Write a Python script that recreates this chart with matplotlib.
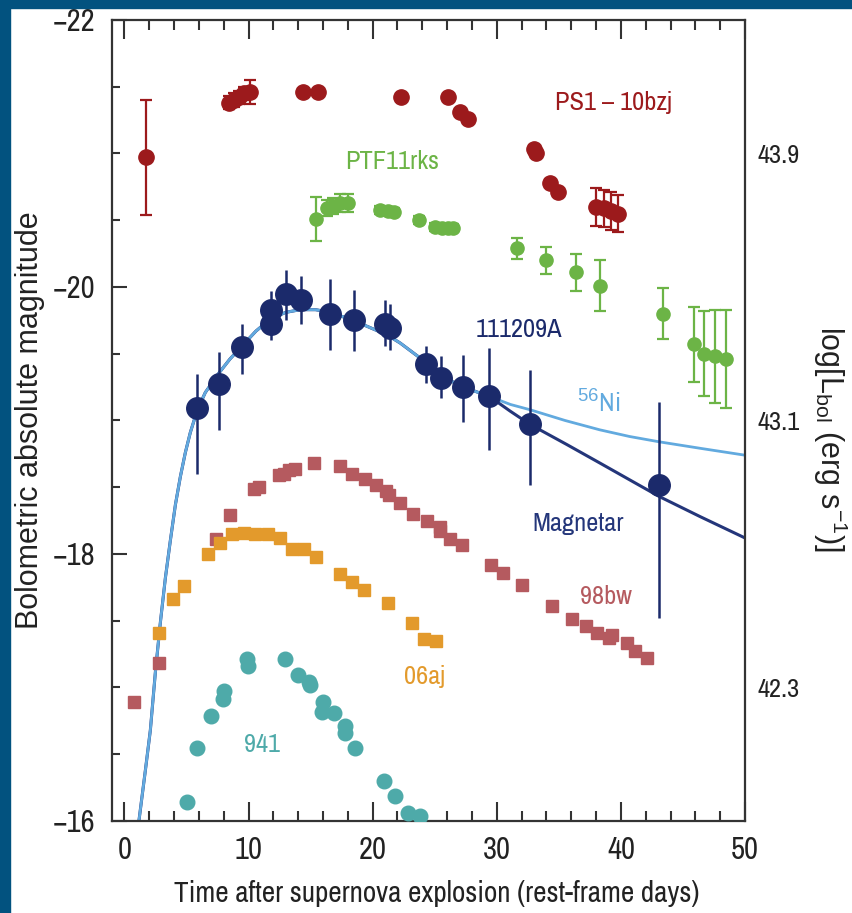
import matplotlib
matplotlib.use("Agg")
import matplotlib.pyplot as plt
from matplotlib.patches import Rectangle
from matplotlib.ticker import MultipleLocator

plt.rcParams["font.family"] = ["Archivo Narrow", "Roboto Condensed", "Liberation Sans", "DejaVu Sans"]
plt.rcParams["mathtext.fontset"] = "custom"
plt.rcParams["mathtext.rm"] = "Liberation Sans"

# PS1-10bzj
ps1_t = [1.7, 8.4, 8.8, 9.2, 9.6, 10.1, 14.4, 15.6, 22.3, 26.1, 27.0, 27.7,
         33.0, 33.2, 34.3, 34.9, 38.0, 38.6, 39.2, 39.8]
ps1_m = [-20.97, -21.38, -21.40, -21.42, -21.45, -21.46, -21.46, -21.46, -21.42,
         -21.42, -21.31, -21.26, -21.03, -21.00, -20.78, -20.71, -20.60, -20.59,
         -20.57, -20.55]
ps1_err = [0.43, 0.05, 0.05, 0.05, 0.05, 0.09, 0.02, 0.02, 0.02, 0.02, 0.02, 0.02,
           0.03, 0.03, 0.03, 0.03, 0.14, 0.14, 0.14, 0.14]

# PTF11rks
ptf_t = [15.4, 16.3, 16.8, 17.4, 18.0, 20.6, 21.2, 21.7, 23.7, 25.0, 25.6, 26.1,
         26.5, 31.6, 34.0, 36.4, 38.3, 43.4, 45.9, 46.7, 47.6, 48.5]
ptf_m = [-20.51, -20.59, -20.61, -20.63, -20.63, -20.58, -20.57, -20.56, -20.50,
         -20.45, -20.44, -20.44, -20.44, -20.29, -20.20, -20.11, -20.01, -19.80,
         -19.57, -19.50, -19.48, -19.46]
ptf_err = [0.165, 0.06, 0.06, 0.07, 0.07, 0.03, 0.03, 0.03, 0.03, 0.03, 0.03, 0.03,
           0.03, 0.08, 0.10, 0.14, 0.19, 0.19, 0.28, 0.32, 0.35, 0.37]

# GRB 111209A
grb_t = [5.85, 7.65, 9.47, 11.8, 11.8, 13.0, 14.2, 16.6, 18.5, 21.0, 21.4, 24.3,
         25.5, 27.3, 29.4, 32.7, 43.1]
grb_m = [-19.09, -19.27, -19.55, -19.83, -19.72, -19.95, -19.90, -19.80, -19.75,
         -19.72, -19.69, -19.42, -19.32, -19.25, -19.18, -18.97, -18.52]
grb_err_up = [0.26, 0.24, 0.17, 0.14, 0.10, 0.18, 0.18, 0.26, 0.23, 0.18, 0.18,
              0.14, 0.16, 0.24, 0.36, 0.41, 0.62]
grb_err_down = [0.49, 0.34, 0.20, 0.10, 0.12, 0.20, 0.18, 0.27, 0.23, 0.16, 0.16,
                0.14, 0.15, 0.26, 0.40, 0.45, 1.00]

# SN 1998bw
bw_t = [0.75, 2.76, 7.41, 8.48, 10.41, 10.81, 12.42, 12.83, 13.23, 13.77, 15.24,
        17.34, 18.33, 19.35, 20.29, 21.1, 21.3, 22.22, 23.29, 24.37, 25.39, 25.39,
        26.25, 27.19, 29.52, 30.49, 32.02, 34.44, 36.1, 37.17, 38.1, 39.07, 39.3,
        40.47, 41.14, 42.08]
bw_m = [-16.89, -17.18, -18.11, -18.29, -18.49, -18.50, -18.59, -18.60, -18.63,
        -18.64, -18.68, -18.66, -18.60, -18.56, -18.52, -18.47, -18.44, -18.38,
        -18.30, -18.25, -18.20, -18.17, -18.11, -18.07, -17.92, -17.86, -17.77,
        -17.61, -17.51, -17.46, -17.41, -17.37, -17.39, -17.33, -17.27, -17.22]

# SN 2006aj
aj_t = [2.76, 3.92, 4.77, 6.71, 7.67, 8.67, 9.61, 10.55, 11.54, 12.56, 13.50,
        14.44, 15.46, 17.34, 18.33, 19.27, 21.2, 23.16, 24.1, 25.1]
aj_m = [-17.41, -17.66, -17.76, -18.00, -18.08, -18.15, -18.16, -18.15, -18.15,
        -18.12, -18.04, -18.04, -17.98, -17.85, -17.79, -17.73, -17.63, -17.48,
        -17.36, -17.35]

# SN 1994I
i94_t = [5.05, 5.85, 6.98, 7.95, 8.0, 9.88, 9.93, 12.96, 13.95, 14.84, 14.98,
         16.0, 15.92, 16.85, 17.79, 17.79, 18.6, 20.88, 21.82, 22.81, 23.83]
i94_m = [-16.14, -16.55, -16.79, -16.91, -16.97, -17.21, -17.16, -17.21, -17.09,
         -17.04, -17.02, -16.89, -16.82, -16.81, -16.71, -16.66, -16.55, -16.30,
         -16.19, -16.06, -16.04]

# model light curves: common rise, then the two tails
rise_t = [1.1, 1.69, 2.09, 2.5, 2.9, 3.3, 3.7, 4.11, 4.51, 4.91, 5.31, 5.88, 6.52,
          7.57, 8.5, 9.5, 10.6, 11.76, 13.0, 14.17, 15.4, 16.59, 18.44, 21.18,
          22.22, 24.37, 25.58, 27.32, 29.41]
rise_m = [-15.95, -16.38, -16.68, -17.12, -17.49, -17.82, -18.10, -18.37, -18.58,
          -18.76, -18.91, -19.08, -19.21, -19.35, -19.46, -19.56, -19.67, -19.76,
          -19.81, -19.83, -19.83, -19.81, -19.75, -19.64, -19.58, -19.43, -19.33,
          -19.25, -19.18]
ni_tail_t = [31.1, 32.7, 35.5, 38.3, 40.7, 43.1, 46.5, 50.0]
ni_tail_m = [-19.12, -19.08, -19.00, -18.93, -18.88, -18.84, -18.79, -18.74]
mag_tail_t = [31.08, 32.69, 35.64, 38.33, 41.0, 43.1, 46.38, 50.0]
mag_tail_m = [-19.07, -18.97, -18.82, -18.68, -18.54, -18.43, -18.28, -18.12]

# right-hand luminosity scale
lum_pos = [-21, -19, -17]
lum_labels = ["43.9", "43.1", "42.3"]

ps1_color = "#9c1a1c"
ptf_color = "#6cb446"
grb_color = "#1b2a6b"
ni_color = "#62aadf"
mag_color = "#24367a"
bw_color = "#b55a5f"
aj_color = "#e39a2c"
i94_color = "#4eaaa9"
ink = "#222222"

fig = plt.figure(figsize=(8.53, 9.13), dpi=100)
ax = fig.add_axes([0.1313, 0.1008, 0.7421, 0.8773])

ax.plot(rise_t + mag_tail_t, rise_m + mag_tail_m, color=mag_color, lw=2.2, zorder=2)
ax.plot(rise_t + ni_tail_t, rise_m + ni_tail_m, color=ni_color, lw=2, zorder=2)

ax.plot(bw_t, bw_m, "s", color=bw_color, ms=8.5, zorder=3)
ax.plot(aj_t, aj_m, "s", color=aj_color, ms=8.5, zorder=3)
ax.plot(i94_t, i94_m, "o", color=i94_color, ms=10.5, zorder=3)

ax.errorbar(ps1_t, ps1_m, yerr=ps1_err, fmt="o", color=ps1_color, ms=11,
            capsize=4, elinewidth=1.6, capthick=1.6, zorder=4)
ax.errorbar(ptf_t, ptf_m, yerr=ptf_err, fmt="o", color=ptf_color, ms=9.5,
            capsize=4, elinewidth=1.6, capthick=1.6, zorder=4)
ax.errorbar(grb_t, grb_m, yerr=[grb_err_up, grb_err_down], fmt="o", color=grb_color,
            ms=15.5, capsize=0, elinewidth=1.8, zorder=5)

label_kw = dict(fontsize=19, ha="left", va="center")
ax.text(34.7, -21.38, "PS1 \u2013 10bzj", color=ps1_color, **label_kw)
ax.text(17.8, -20.94, "PTF11rks", color=ptf_color, **label_kw)
ax.text(28.3, -19.68, "111209A", color=grb_color, **label_kw)
ax.text(36.5, -19.14, "$^{56}$Ni", color=ni_color, **label_kw)
ax.text(32.9, -18.23, "Magnetar", color=mag_color, **label_kw)
ax.text(36.7, -17.68, "98bw", color=bw_color, **label_kw)
ax.text(22.5, -17.08, "06aj", color=aj_color, **label_kw)
ax.text(9.6, -16.57, "941", color=i94_color, **label_kw)

ax.set_xlim(-1, 50)
ax.set_ylim(-16, -22)
ax.xaxis.set_major_locator(MultipleLocator(10))
ax.xaxis.set_minor_locator(MultipleLocator(2))
ax.yaxis.set_major_locator(MultipleLocator(2))
ax.yaxis.set_minor_locator(MultipleLocator(0.5))
ax.tick_params(which="both", direction="in", top=True, right=True, width=1.5,
               color="#333333", labelcolor=ink)
ax.tick_params(axis="x", which="major", length=14, pad=11, labelsize=22)
ax.tick_params(axis="x", which="minor", length=7)
ax.tick_params(axis="y", which="major", length=11, pad=12, labelsize=22)
ax.tick_params(axis="y", which="minor", length=5.5)
for sp in ax.spines.values():
    sp.set_linewidth(1.6)
    sp.set_color("#333333")

ax.set_xlabel("Time after supernova explosion (rest-frame days)", fontsize=21,
              color=ink, va="center")
ax.xaxis.set_label_coords(0.513, -0.091)
ax.set_ylabel("Bolometric absolute magnitude", fontsize=22, color=ink,
              family="Liberation Sans", va="center")
ax.yaxis.set_label_coords(-0.13, 0.5)

ax2 = ax.twinx()
ax2.set_ylim(ax.get_ylim())
ax2.set_yticks(lum_pos)
ax2.set_yticklabels(lum_labels)
ax2.tick_params(length=0, pad=9, labelsize=19, labelcolor=ink)
for sp in ax2.spines.values():
    sp.set_visible(False)
fig.text(830 / 853, 1 - 439 / 913, r"log[$\mathrm{L_{bol}}$ (erg s$^{-1}$)]",
         rotation=270, ha="center", va="center", fontsize=22,
         family="Liberation Sans", color=ink)

# slide frame
frame = "#02527f"
fig.patches.append(Rectangle((0, 1 - 8 / 913), 1, 8 / 913, transform=fig.transFigure,
                             color=frame, zorder=10))
fig.patches.append(Rectangle((0, 0), 10 / 853, 1, transform=fig.transFigure,
                             color=frame, zorder=10))

fig.savefig("out.png", dpi=100)
